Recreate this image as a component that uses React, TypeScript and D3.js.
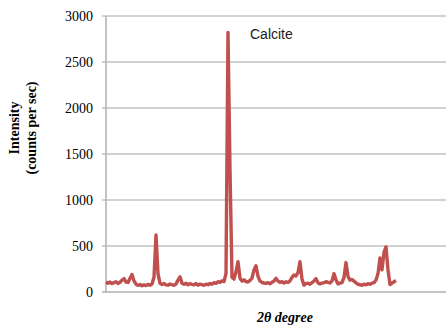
import React from 'react';
import * as d3 from 'd3';

// XRD scan, sampled every 0.4 degrees starting at 5 degrees 2-theta
const startAngle = 5;
const stepAngle = 0.4;
const intensity = [
  110, 95, 108, 92, 102, 112, 93, 106, 130, 145,
  108, 104, 150, 190, 120, 85, 72, 82, 68, 77,
  70, 82, 74, 86, 160, 620, 200, 95, 82, 92,
  78, 74, 87, 79, 73, 86, 130, 165, 95, 83,
  96, 78, 91, 84, 78, 92, 74, 86, 79, 73,
  86, 79, 92, 84, 101, 94, 112, 104, 121, 114,
  200, 2820, 1330, 160, 140, 220, 330, 150, 118, 132,
  113, 108, 126, 150, 240, 285, 170, 120, 103, 98,
  94, 102, 89, 106, 120, 150, 118, 104, 112, 98,
  111, 103, 121, 160, 185, 175, 210, 330, 140, 75,
  91, 96, 84, 101, 120, 145, 99, 88, 96, 101,
  112, 104, 98, 121, 200, 130, 88, 96, 102, 160,
  320, 170, 128, 136, 118, 99, 84, 79, 73, 86,
  78, 91, 84, 96, 101, 130, 200, 370, 240, 430,
  490, 240, 80, 96, 111, 125,
];
const yTicks = [0, 500, 1000, 1500, 2000, 2500, 3000];
const peakLabel = 'Calcite';
const yTitle = ['Intensity', '(counts per sec)'];
const xTitle = '2θ degree';

export default function App() {
  const width = 446;
  const height = 327;
  const left = 106;
  const top = 16;
  const bottom = 292;

  const x = d3.scaleLinear().domain([5, 73]).range([left, width]);
  const y = d3.scaleLinear().domain([0, 3000]).range([bottom, top]);

  const points: [number, number][] = intensity.map((v, i) => [startAngle + i * stepAngle, v]);
  const line = d3.line<[number, number]>()
    .x(d => x(d[0]))
    .y(d => y(d[1]));

  const serif = '"Liberation Serif", "Times New Roman", serif';

  return (
    <svg width={width} height={height} style={{ position: 'absolute', left: 0, top: 0 }}>
      <rect width={width} height={height} fill="#fff" />
      {yTicks.map(t => (
        <g key={t}>
          <line x1={left - 4} x2={width} y1={y(t)} y2={y(t)}
            stroke={t === 0 ? '#b0b0b0' : '#a3a3a3'} strokeWidth={t === 0 ? 1.5 : 1} />
          <text x={93} y={y(t)} dy="0.35em" textAnchor="end"
            fontFamily={serif} fontSize={14} fill="#000">{t}</text>
        </g>
      ))}
      <line x1={left} x2={left} y1={top} y2={bottom} stroke="#b0b0b0" strokeWidth={1.5} />
      <path d={line(points) ?? ''} fill="none" stroke="#c0504d" strokeWidth={3.4}
        strokeLinejoin="round" />
      <text x={250} y={39} fontFamily='"Liberation Sans", Arial, sans-serif' fontSize={14}
        fill="#1a1a1a">{peakLabel}</text>
      <g transform="translate(23,128) rotate(-90)">
        {yTitle.map((s, i) => (
          <text key={s} x={0} y={(i - 0.5) * 17} dy="0.35em" textAnchor="middle"
            fontFamily={serif} fontSize={14} fontWeight="bold">{s}</text>
        ))}
      </g>
      <text x={285} y={322} textAnchor="middle" fontFamily={serif} fontSize={14}
        fontWeight="bold" fontStyle="italic">{xTitle}</text>
    </svg>
  );
}
